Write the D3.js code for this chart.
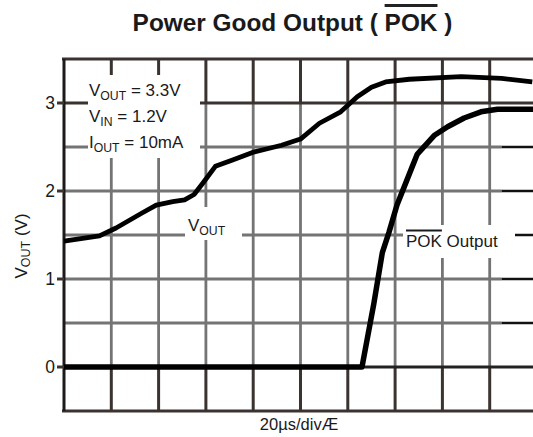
<!DOCTYPE html>
<html>
<head>
<meta charset="utf-8">
<script src="https://cdn.jsdelivr.net/npm/d3@7"></script>
<style>
  body { margin: 0; background: #fff; }
  text { font-family: 'Liberation Sans', Arial, sans-serif; fill: #1a1a1a; }
</style>
</head>
<body>
<div id="chart"></div>
<script>
// scope trace, time in microseconds (20us per division), volts
var voutTime = [0, 15, 22, 33, 39, 46, 51, 55, 59, 64, 71, 80, 86, 92, 100, 108, 117, 124, 130, 136, 146, 168, 185, 198]
var voutVolts = [1.43, 1.49, 1.58, 1.75, 1.84, 1.88, 1.9, 1.96, 2.1, 2.28, 2.35, 2.44, 2.48, 2.52, 2.59, 2.77, 2.9, 3.07, 3.18, 3.24, 3.27, 3.3, 3.28, 3.24]

var pokTime = [0, 126, 131, 134.6, 137.4, 140.8, 147, 149.4, 156.5, 162.2, 169.2, 176.3, 183.3, 198.5]
var pokVolts = [0, 0, 0.72, 1.3, 1.53, 1.84, 2.26, 2.42, 2.63, 2.73, 2.83, 2.9, 2.93, 2.93]

var yTicks = [0, 1, 2, 3]
var hGrid = [0.5, 1, 1.5, 2, 2.5]
var vGrid = [20, 40, 60, 80, 100, 120, 140, 160, 180]

var width = 533
var height = 437
var dark = '#3a3330'
var grey = '#747474'

var svg = d3
  .select('#chart')
  .append('svg')
  .attr('width', width)
  .attr('height', height)

var x = d3.scaleLinear().domain([0, 200]).range([64, 537])
var y = d3.scaleLinear().domain([-0.5, 3.5]).range([411, 59])

var grid = svg.append('g')

// vertical divisions: grey in the trace area, dark in the top and bottom bands
vGrid.forEach(function(t) {
  grid.append('line')
    .attr('x1', x(t)).attr('x2', x(t))
    .attr('y1', y(3)).attr('y2', y(0))
    .attr('stroke', grey).attr('stroke-width', 2.8)
  grid.append('line')
    .attr('x1', x(t)).attr('x2', x(t))
    .attr('y1', y(3.5)).attr('y2', y(3))
    .attr('stroke', dark).attr('stroke-width', 3)
  grid.append('line')
    .attr('x1', x(t)).attr('x2', x(t))
    .attr('y1', y(0)).attr('y2', y(-0.5))
    .attr('stroke', dark).attr('stroke-width', 3)
})

hGrid.forEach(function(v) {
  grid.append('line')
    .attr('x1', x(0)).attr('x2', x(185))
    .attr('y1', y(v)).attr('y2', y(v))
    .attr('stroke', grey).attr('stroke-width', 2.8)
  grid.append('line')
    .attr('x1', x(185)).attr('x2', width)
    .attr('y1', y(v)).attr('y2', y(v))
    .attr('stroke', '#111').attr('stroke-width', 2.5)
})

// frame
grid.append('line')
  .attr('x1', x(0)).attr('x2', width)
  .attr('y1', y(3)).attr('y2', y(3))
  .attr('stroke', dark).attr('stroke-width', 3)
grid.append('line')
  .attr('x1', x(0)).attr('x2', width)
  .attr('y1', y(0)).attr('y2', y(0))
  .attr('stroke', '#222').attr('stroke-width', 3)
grid.append('line')
  .attr('x1', x(0) - 2).attr('x2', width)
  .attr('y1', y(3.5)).attr('y2', y(3.5))
  .attr('stroke', dark).attr('stroke-width', 3)
grid.append('line')
  .attr('x1', x(0) - 2).attr('x2', width)
  .attr('y1', y(-0.5)).attr('y2', y(-0.5))
  .attr('stroke', dark).attr('stroke-width', 3)
grid.append('line')
  .attr('x1', x(0)).attr('x2', x(0))
  .attr('y1', y(3.5)).attr('y2', y(-0.5))
  .attr('stroke', '#1e1a19').attr('stroke-width', 3)

// y ticks
svg.selectAll('.tick-mark')
  .data(yTicks)
  .enter()
  .append('line')
  .attr('class', 'tick-mark')
  .attr('x1', x(0) - 7).attr('x2', x(0))
  .attr('y1', d => y(d)).attr('y2', d => y(d))
  .attr('stroke', dark).attr('stroke-width', 3)

svg.selectAll('.tick-label')
  .data(yTicks)
  .enter()
  .append('text')
  .attr('class', 'tick-label')
  .attr('x', x(0) - 9)
  .attr('y', d => y(d))
  .attr('dy', '0.36em')
  .attr('text-anchor', 'end')
  .attr('font-size', 17.5)
  .text(d => d)

// white label patches
var boxes = [[88, 75, 112, 83], [185, 207, 57, 33], [403, 225, 112, 33]]
svg.selectAll('.patch')
  .data(boxes)
  .enter()
  .append('rect')
  .attr('class', 'patch')
  .attr('x', d => d[0]).attr('y', d => d[1])
  .attr('width', d => d[2]).attr('height', d => d[3])
  .attr('fill', '#fff')

// traces
var line = d3
  .line()
  .x(d => x(d[0]))
  .y(d => y(d[1]))

svg.append('path')
  .datum(pokTime.map((t, i) => [t, pokVolts[i]]))
  .attr('d', line)
  .attr('fill', 'none')
  .attr('stroke', '#000')
  .attr('stroke-width', 5.5)
  .attr('stroke-linejoin', 'round')

svg.append('path')
  .datum(voutTime.map((t, i) => [t, voutVolts[i]]))
  .attr('d', line)
  .attr('fill', 'none')
  .attr('stroke', '#000')
  .attr('stroke-width', 4.8)
  .attr('stroke-linejoin', 'round')

// annotation text with subscripts
function subText(px, py, main, sub, rest, size) {
  var t = svg.append('text')
    .attr('x', px).attr('y', py)
    .attr('font-size', size)
  t.append('tspan').text(main)
  t.append('tspan').attr('font-size', size * 0.72).attr('dy', 4).text(sub)
  if (rest) t.append('tspan').attr('dy', -4).text(rest)
  return t
}

subText(89, 96, 'V', 'OUT', ' = 3.3V', 17)
subText(89, 122, 'V', 'IN', ' = 1.2V', 17)
subText(89, 148, 'I', 'OUT', ' = 10mA', 17)
subText(188, 231, 'V', 'OUT', null, 17)

var pokLabel = svg.append('text')
  .attr('x', 406).attr('y', 247)
  .attr('font-size', 17)
  .text('POK Output')
var pokW = pokLabel.node().getSubStringLength(0, 3)
svg.append('line')
  .attr('x1', 406).attr('x2', 406 + pokW)
  .attr('y1', 230.5).attr('y2', 230.5)
  .attr('stroke', '#1a1a1a').attr('stroke-width', 1.8)

// axis titles
var yTitle = svg.append('text')
  .attr('transform', 'translate(27,246) rotate(-90)')
  .attr('text-anchor', 'middle')
  .attr('font-size', 17)
yTitle.append('tspan').text('V')
yTitle.append('tspan').attr('font-size', 12.5).attr('dy', 3).text('OUT')
yTitle.append('tspan').attr('dy', -3).text(' (V)')

svg.append('text')
  .attr('x', 299).attr('y', 430)
  .attr('text-anchor', 'middle')
  .attr('font-size', 16.5)
  .text('20µs/divÆ')

// title with overlined POK
var title = svg.append('text')
  .attr('x', 292.5).attr('y', 31)
  .attr('text-anchor', 'middle')
  .attr('font-size', 24.4)
  .attr('font-weight', 700)
  .text('Power Good Output ( POK )')
var tNode = title.node()
var start = tNode.getStartPositionOfChar(20).x
var end = tNode.getEndPositionOfChar(22).x
svg.append('line')
  .attr('x1', start).attr('x2', end)
  .attr('y1', 5.5).attr('y2', 5.5)
  .attr('stroke', '#222').attr('stroke-width', 2.8)
</script>
</body>
</html>
